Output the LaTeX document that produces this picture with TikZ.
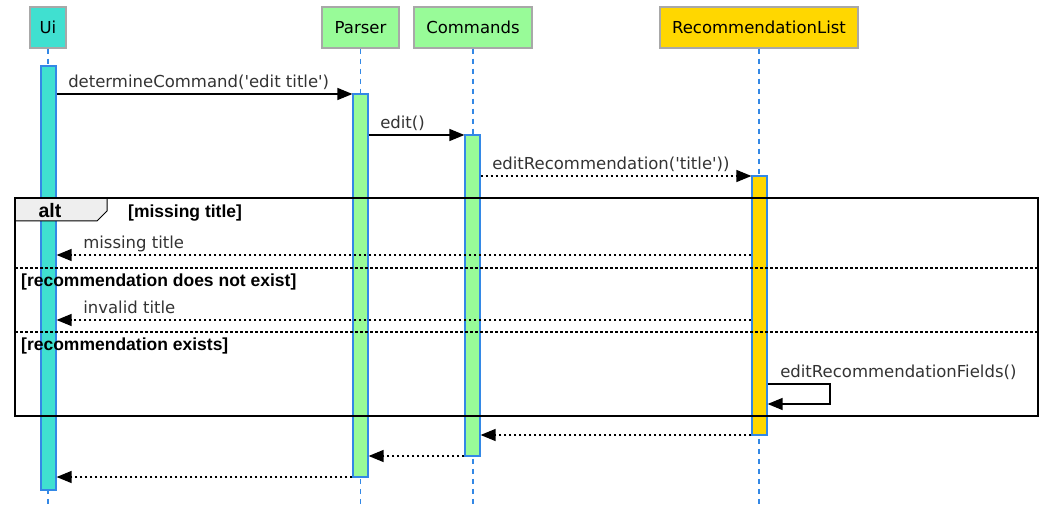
\documentclass[tikz,border=0pt]{standalone}
\usepackage{fontspec}
\setmainfont{DejaVu Sans}
\newfontfamily\guardfamily{Liberation Sans}
\usepackage{tikz}
\usepackage{xcolor}
\usetikzlibrary{arrows.meta, positioning, calc}
\definecolor{cTurq}{RGB}{64,224,208}
\definecolor{cPale}{RGB}{152,251,152}
\definecolor{cGold}{RGB}{255,215,0}
\definecolor{cLife}{RGB}{51,136,230}
\definecolor{cHead}{RGB}{168,168,168}
\definecolor{cTab}{RGB}{238,238,238}
\definecolor{cLabel}{RGB}{51,51,51}
\newcommand{\msgfont}{\fontsize{16.5}{19}\selectfont}
\newcommand{\guardfont}{\guardfamily\bfseries\fontsize{17.5}{19}\selectfont}
\newcommand{\sq}{\textquotesingle}
\tikzset{
	head/.style    ={rectangle, draw=cHead, line width=1.5pt, minimum height=41pt, inner sep=0pt, font=\msgfont},
	actbar/.style  ={rectangle, draw=cLife, line width=1.2pt, minimum width=15pt, inner sep=0pt},
	lifeline/.style={cLife, line width=1.2pt, dash pattern=on 5pt off 5pt},
	call/.style    ={-{Triangle[length=15pt, width=12pt]}, line width=1.3pt},
	reply/.style   ={-{Triangle[length=15pt, width=12pt]}, line width=1.3pt, dash pattern=on 2.5pt off 2.5pt},
	msglbl/.style  ={anchor=base west, inner sep=0pt, text=cLabel, font=\msgfont},
	guard/.style   ={anchor=base west, inner sep=0pt, font=\guardfont},
	divider/.style ={line width=1.2pt, dash pattern=on 2.5pt off 2.5pt},
}
\begin{document}
\begin{tikzpicture}[x=1pt, y=-1pt]
	\useasboundingbox (0,0) rectangle (1047,513);
	% participants
	\node[head, fill=cTurq, minimum width=36pt]  (ui)  at (48,27.5)    {Ui};
	\node[head, fill=cPale, minimum width=77pt]  (par) at (360.5,27.5) {Parser};
	\node[head, fill=cPale, minimum width=118pt] (cmd) at (473,27.5)   {Commands};
	\node[head, fill=cGold, minimum width=198pt] (rec) at (759,27.5)   {RecommendationList};
	\coordinate (bot) at (0,505);
	\foreach \p in {ui, par, cmd, rec}
		\draw[lifeline] (\p.south) -- (\p.south |- bot);
	% activations
	\node[actbar, fill=cTurq, minimum height=424pt] (uiAct)  at (48.5,278)   {};
	\node[actbar, fill=cPale, minimum height=383pt] (parAct) at (360.5,285.5) {};
	\node[actbar, fill=cPale, minimum height=321pt] (cmdAct) at (472.5,295.5) {};
	\node[actbar, fill=cGold, minimum height=259pt] (recAct) at (759.5,305.5) {};
	% message rows
	\coordinate (y1) at (0,94);
	\coordinate (y2) at (0,135);
	\coordinate (y3) at (0,176);
	\coordinate (y4) at (0,255);
	\coordinate (y5) at (0,320);
	\coordinate (y6) at (0,384);
	\coordinate (y7) at (0,404);
	\coordinate (y8) at (0,435);
	\coordinate (y9) at (0,456);
	\coordinate (y10) at (0,477);
	\draw[call] (uiAct.east |- y1) -- node[msglbl, at start, xshift=11pt, yshift=6.7pt] {determineCommand(\sq edit title\sq)} (parAct.west |- y1);
	\draw[call] (parAct.east |- y2) -- node[msglbl, at start, xshift=11pt, yshift=6.7pt] {edit()} (cmdAct.west |- y2);
	\draw[reply] (cmdAct.east |- y3) -- node[msglbl, at start, xshift=11pt, yshift=6.7pt] {editRecommendation(\sq title\sq))} (recAct.west |- y3);
	\draw[reply] (recAct.west |- y4) -- node[msglbl, at end, xshift=26pt, yshift=6.7pt] {missing title} (uiAct.east |- y4);
	\draw[reply] (recAct.west |- y5) -- node[msglbl, at end, xshift=26pt, yshift=6.7pt] {invalid title} (uiAct.east |- y5);
	\draw[call] (recAct.east |- y6) -- node[msglbl, at start, xshift=12pt, yshift=6.7pt] {editRecommendationFields()} (830,384) -- (830,404) -- (recAct.east |- y7);
	\draw[reply] (recAct.west |- y8) -- (cmdAct.east |- y8);
	\draw[reply] (cmdAct.west |- y9) -- (parAct.east |- y9);
	\draw[reply] (parAct.west |- y10) -- (uiAct.east |- y10);
	% alt fragment
	\draw[fill=cTab, line width=1pt] (15,198) -- (107,198) -- (107,211) -- (97,221) -- (15,221) -- cycle;
	\node[anchor=base, inner sep=0pt, font=\guardfamily\bfseries\fontsize{19.5}{21}\selectfont] (altLbl) at (50,218) {alt};
	\draw[line width=2.5pt] (15,198) rectangle (1038,416);
	\node[guard] (g1) at (128,218) {[missing title]};
	\draw[divider] (15,268) -- (1038,268);
	\node[guard] (g2) at (21,286) {[recommendation does not exist]};
	\draw[divider] (15,332) -- (1038,332);
	\node[guard] (g3) at (21,350) {[recommendation exists]};
\end{tikzpicture}
\end{document}
